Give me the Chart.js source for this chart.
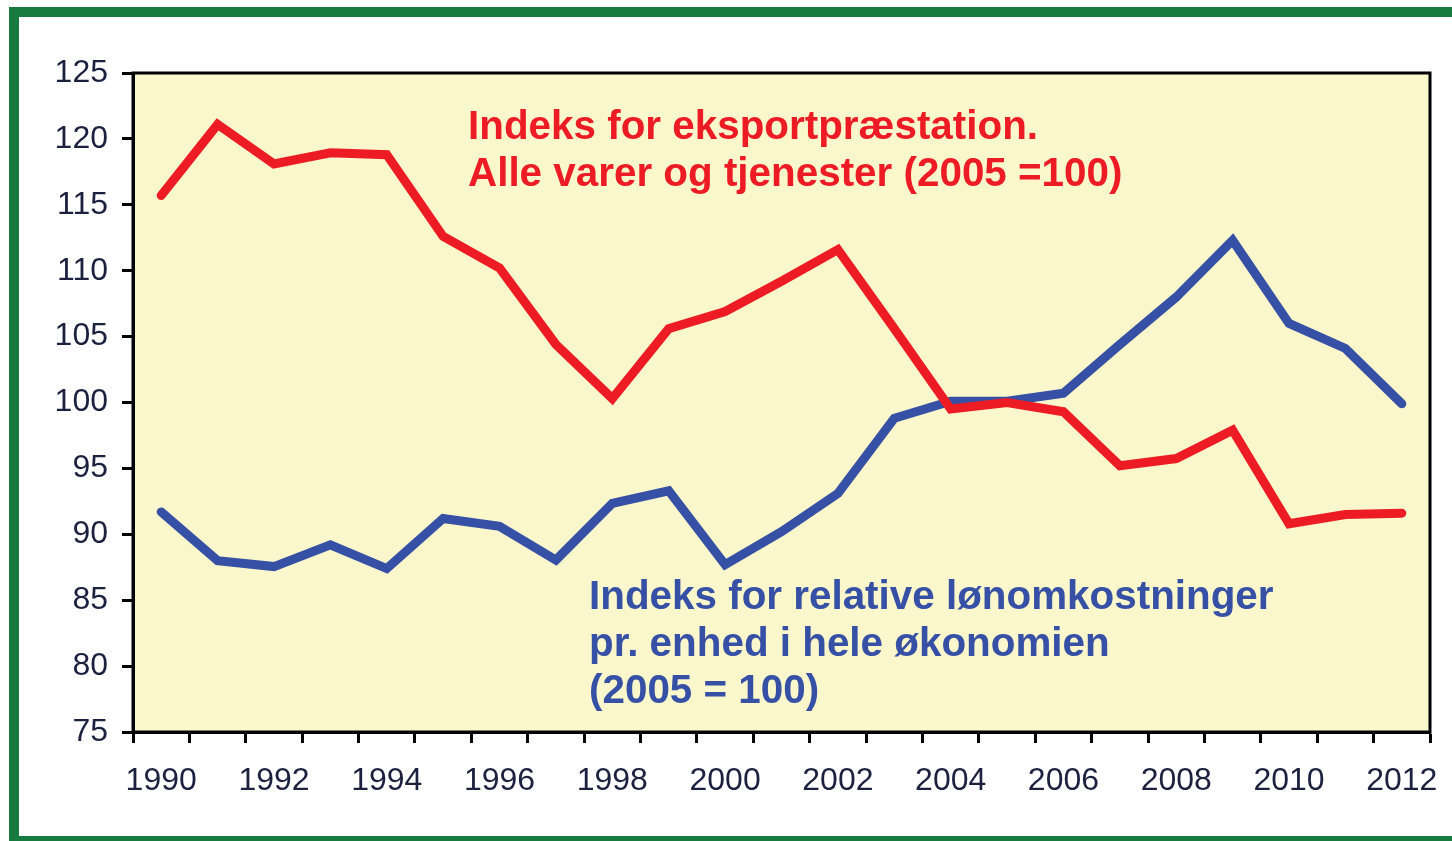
<!DOCTYPE html>
<html>
<head>
<meta charset="utf-8">
<script src="https://cdn.jsdelivr.net/npm/chart.js@4/dist/chart.umd.min.js"></script>
<style>
  html, body { margin: 0; padding: 0; background: #ffffff; }
  #c { display: block; }
</style>
</head>
<body>
<canvas id="c" width="1452" height="841"></canvas>
<script>
// ---- data ----
const years = ['1990','1991','1992','1993','1994','1995','1996','1997','1998','1999','2000','2001','2002','2003','2004','2005','2006','2007','2008','2009','2010','2011','2012'];
const exportIndex = [115.7, 121.1, 118.1, 118.95, 118.8, 112.6, 110.2, 104.4, 100.3, 105.6, 106.9, 109.2, 111.6, 105.6, 99.5, 100.0, 99.3, 95.2, 95.75, 97.9, 90.8, 91.5, 91.6];
const laborCostIndex = [91.7, 88.0, 87.55, 89.2, 87.4, 91.2, 90.6, 88.05, 92.35, 93.3, 87.7, 90.2, 93.1, 98.8, 100.1, 100.1, 100.7, 104.4, 108.0, 112.3, 106.0, 104.1, 99.9];
const yMin = 75, yMax = 125, yStep = 5;
const redLabel = ['Indeks for eksportpræstation.', 'Alle varer og tjenester (2005 =100)'];
const blueLabel = ['Indeks for relative lønomkostninger', 'pr. enhed i hele økonomien', '(2005 = 100)'];

const RED = '#ED1C24';
const BLUE = '#3550A5';
const FONT = '"Liberation Sans", Arial, sans-serif';
const TXT = '#1C2140';

const framePlugin = {
  id: 'frame',
  beforeDraw(chart) {
    const ctx = chart.ctx, a = chart.chartArea;
    ctx.save();
    ctx.fillStyle = '#ffffff';
    ctx.fillRect(0, 0, chart.width, chart.height);
    ctx.fillStyle = '#FAF7CC';
    ctx.fillRect(a.left, a.top, a.right - a.left, a.bottom - a.top);
    ctx.restore();
  },
  afterDraw(chart) {
    const ctx = chart.ctx, a = chart.chartArea;
    ctx.save();
    // plot frame
    ctx.strokeStyle = '#000000';
    ctx.lineWidth = 3;
    ctx.strokeRect(a.left, a.top, a.right - a.left, a.bottom - a.top);
    // green outer frame
    ctx.strokeStyle = '#177B3F';
    ctx.lineWidth = 10;
    ctx.strokeRect(14, 12, 1470, 829);
    // annotations
    ctx.font = 'bold 40.4px ' + FONT;
    ctx.textBaseline = 'alphabetic';
    ctx.textAlign = 'left';
    ctx.fillStyle = RED;
    redLabel.forEach((t, i) => ctx.fillText(t, 468, 139 + i * 47));
    ctx.fillStyle = BLUE;
    blueLabel.forEach((t, i) => ctx.fillText(t, 589, 609 + i * 47));
    ctx.restore();
  }
};

new Chart(document.getElementById('c'), {
  type: 'line',
  data: {
    labels: years,
    datasets: [
      {
        label: redLabel.join(' '),
        data: exportIndex,
        borderColor: RED,
        borderWidth: 9,
        pointRadius: 0,
        tension: 0,
        borderCapStyle: 'round',
        borderJoinStyle: 'miter',
        fill: false
      },
      {
        label: blueLabel.join(' '),
        data: laborCostIndex,
        borderColor: BLUE,
        borderWidth: 9,
        pointRadius: 0,
        tension: 0,
        borderCapStyle: 'round',
        borderJoinStyle: 'miter',
        fill: false
      }
    ]
  },
  options: {
    responsive: false,
    animation: false,
    devicePixelRatio: 1,
    layout: { padding: { left: 20, top: 73, right: 22, bottom: 20 } },
    plugins: {
      legend: { display: false },
      tooltip: { enabled: false },
      title: { display: false }
    },
    scales: {
      x: {
        type: 'category',
        offset: true,
        grid: {
          offset: true,
          drawOnChartArea: false,
          drawTicks: true,
          tickLength: 11,
          tickWidth: 3,
          tickColor: '#000000'
        },
        border: { display: true, color: '#000000', width: 3 },
        ticks: {
          autoSkip: false,
          maxRotation: 0,
          padding: 19,
          color: TXT,
          font: { family: FONT, size: 32 },
          callback: function(v, i) { return i % 2 === 0 ? years[i] : ''; }
        },
        afterFit(scale) {
          scale.height = 89;
          scale.paddingLeft = 0;
          scale.paddingRight = 0;
        }
      },
      y: {
        min: yMin,
        max: yMax,
        grid: {
          drawOnChartArea: false,
          drawTicks: true,
          tickLength: 11,
          tickWidth: 3,
          tickColor: '#000000'
        },
        border: { display: true, color: '#000000', width: 3 },
        ticks: {
          stepSize: yStep,
          padding: 14,
          color: TXT,
          font: { family: FONT, size: 32 }
        },
        afterFit(scale) {
          scale.width = 113;
          scale.paddingTop = 0;
          scale.paddingBottom = 0;
        }
      }
    }
  },
  plugins: [framePlugin]
});
</script>
</body>
</html>
